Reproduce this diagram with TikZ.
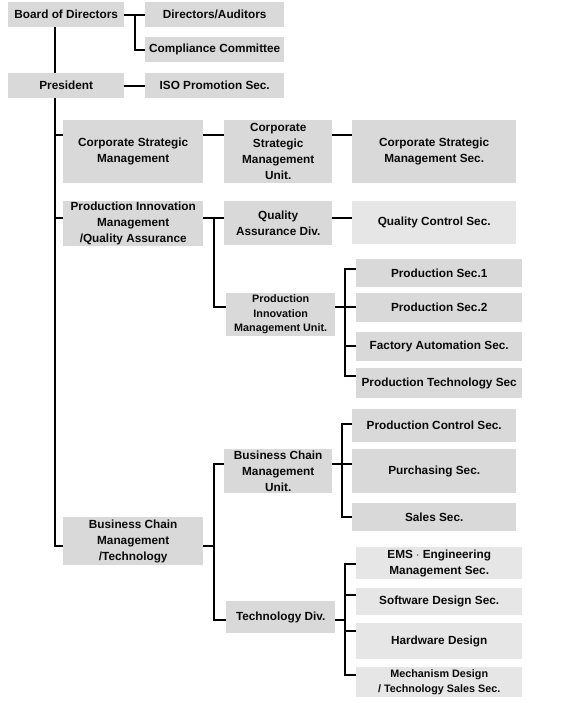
\documentclass[tikz,border=0pt]{standalone}
\usepackage{fontspec}
\setmainfont{Liberation Sans}
\definecolor{boxA}{HTML}{D9D9D9}
\definecolor{boxB}{HTML}{E6E6E6}
\definecolor{txt}{HTML}{0A0A0A}
\begin{document}
\begin{tikzpicture}[x=1pt,y=-1pt,
  box/.style={fill=boxA, inner sep=0pt, anchor=north west, align=center, text=txt,
    font=\bfseries\fontsize{11.8}{16}\selectfont},
  boxl/.style={box, fill=boxB},
  small/.style={font=\bfseries\fontsize{10.8}{14.5}\selectfont},
  conn/.style={line width=2pt, draw=black},
]
\useasboundingbox (0,0) rectangle (579,703);
% boxes
\node[box, minimum width=116pt, minimum height=25pt] (bod) at (8,2) {Board of Directors};
\node[box, minimum width=139pt, minimum height=25pt] (dir) at (145,2) {Directors/Auditors};
\node[box, minimum width=139pt, minimum height=25pt] (cc) at (145,37) {Compliance Committee};
\node[box, minimum width=116pt, minimum height=25pt] (pres) at (8,73) {President};
\node[box, minimum width=139pt, minimum height=25pt] (iso) at (145,73) {ISO Promotion Sec.};
\node[box, minimum width=140pt, minimum height=63pt] (csm) at (63,120) {Corporate Strategic\\Management};
\node[box, minimum width=108pt, minimum height=63pt] (csmu) at (224,120) {Corporate\\Strategic\\Management\\Unit.};
\node[box, minimum width=164pt, minimum height=63pt] (csms) at (352,120) {Corporate Strategic\\Management Sec.};
\node[box, minimum width=140pt, minimum height=45pt] (pim) at (63,201) {Production Innovation\\Management\\/Quality Assurance};
\node[box, minimum width=108pt, minimum height=44pt] (qad) at (224,201) {Quality\\Assurance Div.};
\node[boxl, minimum width=164pt, minimum height=43pt] (qcs) at (352,201) {Quality Control Sec.};
\node[box, small, minimum width=109pt, minimum height=43pt] (pimu) at (226,293) {Production\\Innovation\\Management Unit.};
\node[box, minimum width=166pt, minimum height=28pt] (ps1) at (356,259) {Production Sec.1};
\node[box, minimum width=166pt, minimum height=29pt] (ps2) at (356,293) {Production Sec.2};
\node[box, minimum width=166pt, minimum height=29pt] (fas) at (356,332) {Factory Automation Sec.};
\node[box, minimum width=166pt, minimum height=30pt] (pts) at (356,368) {Production Technology Sec};
\node[box, minimum width=164pt, minimum height=33pt] (pcs) at (352,409) {Production Control Sec.};
\node[box, minimum width=108pt, minimum height=44pt] (bcmu) at (224,449) {Business Chain\\Management\\Unit.};
\node[box, minimum width=164pt, minimum height=44pt] (pur) at (352,449) {Purchasing Sec.};
\node[box, minimum width=164pt, minimum height=28pt] (sal) at (352,503) {Sales Sec.};
\node[box, minimum width=140pt, minimum height=48pt] (bcmt) at (63,517) {Business Chain\\Management\\/Technology};
\node[boxl, minimum width=166pt, minimum height=32pt] (ems) at (356,547) {EMS $\cdot$ Engineering\\Management Sec.};
\node[boxl, minimum width=166pt, minimum height=27pt] (sds) at (356,588) {Software Design Sec.};
\node[boxl, minimum width=166pt, minimum height=36pt] (hwd) at (356,623) {Hardware Design};
\node[boxl, small, minimum width=166pt, minimum height=30pt] (mds) at (356,667) {Mechanism Design\\/ Technology Sales Sec.};
\node[box, minimum width=109pt, minimum height=32pt] (tech) at (226,601) {Technology Div.};
% connector levels
\coordinate (xm) at (55,0);
\coordinate (xb) at (135,0);
\coordinate (xp) at (214,0);
\coordinate (xq) at (345,0);
\coordinate (xr) at (342,0);
\coordinate (yCSM) at (0,135);
\coordinate (yPIM) at (0,218);
\coordinate (yPIMU) at (0,307);
\coordinate (yPS1) at (0,269);
\coordinate (yFAS) at (0,346);
\coordinate (yPTS) at (0,376);
\coordinate (yPCS) at (0,424);
\coordinate (yBCMU) at (0,464);
\coordinate (ySAL) at (0,517);
\coordinate (yBCMT) at (0,546);
\coordinate (yEMS) at (0,564);
\coordinate (ySDS) at (0,595);
\coordinate (yHWD) at (0,631);
\coordinate (yMDS) at (0,675);
\coordinate (yTECH) at (0,620);
% connectors
\draw[conn] (bod.south -| xm) -- (pres.north -| xm);
\draw[conn] (pres.south -| xm) |- (bcmt.west |- yBCMT);
\draw[conn] (xm |- yCSM) -- (csm.west |- yCSM);
\draw[conn] (xm |- yPIM) -- (pim.west |- yPIM);
\draw[conn] (bod.east) -- (dir.west);
\draw[conn] (xb |- bod.east) |- (cc.west);
\draw[conn] (pres.east) -- (iso.west);
\draw[conn] (csm.east |- yCSM) -- (csmu.west |- yCSM);
\draw[conn] (csmu.east |- yCSM) -- (csms.west |- yCSM);
\draw[conn] (pim.east |- yPIM) -- (qad.west |- yPIM);
\draw[conn] (qad.east |- yPIM) -- (qcs.west |- yPIM);
\draw[conn] (xp |- yPIM) |- (pimu.west |- yPIMU);
\draw[conn] (pimu.east |- yPIMU) -- (ps2.west |- yPIMU);
\draw[conn] (ps1.west |- yPS1) -| (xq |- yPTS) -- (pts.west |- yPTS);
\draw[conn] (xq |- yFAS) -- (fas.west |- yFAS);
\draw[conn] (bcmt.east |- yBCMT) -- (xp |- yBCMT);
\draw[conn] (bcmu.west |- yBCMU) -| (xp |- yTECH) -- (tech.west |- yTECH);
\draw[conn] (bcmu.east |- yBCMU) -- (pur.west |- yBCMU);
\draw[conn] (pcs.west |- yPCS) -| (xr |- ySAL) -- (sal.west |- ySAL);
\draw[conn] (tech.east |- yTECH) -- (xq |- yTECH);
\draw[conn] (ems.west |- yEMS) -| (xq |- yMDS) -- (mds.west |- yMDS);
\draw[conn] (xq |- ySDS) -- (sds.west |- ySDS);
\draw[conn] (xq |- yHWD) -- (hwd.west |- yHWD);
\end{tikzpicture}
\end{document}
